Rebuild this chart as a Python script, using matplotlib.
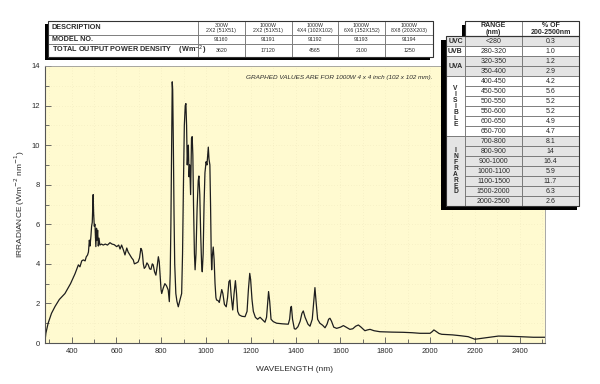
import numpy as np
import matplotlib
matplotlib.use("Agg")
from matplotlib import pyplot as plt
from matplotlib.patches import Rectangle

plt.rcParams['font.family'] = ['Liberation Sans', 'DejaVu Sans']

# spectrum (nm, W m^-2 nm^-1)
wavelength = [
    280, 285, 295, 310, 326, 345, 370, 395, 415, 430, 437, 445, 452, 460, 465, 471, 475, 479,
    482, 486, 489, 492, 494, 496, 498, 501, 504, 506, 508, 511, 513, 516, 519, 522, 526, 533,
    541, 550, 560, 571, 580, 590, 601, 610, 616, 623, 631, 638, 646, 652, 660, 668, 675, 680,
    690, 697, 703, 709, 713, 716, 720, 724, 730, 736, 742, 748, 754, 760, 764, 770, 776, 782,
    787, 791, 795, 799, 802, 808, 816, 823, 831, 836, 840, 843, 846, 849, 851, 854, 857, 860,
    865, 870, 876, 884, 891, 895, 899, 903, 907, 910, 913, 916, 919, 921, 924, 927, 931, 935,
    938, 941, 944, 948, 951, 955, 960, 965, 968, 972, 976, 980, 983, 987, 991, 995, 1000, 1004,
    1008, 1010, 1013, 1017, 1020, 1023, 1025, 1028, 1032, 1036, 1040, 1044, 1047, 1053, 1059,
    1065, 1070, 1075, 1082, 1090, 1096, 1102, 1107, 1112, 1119, 1125, 1131, 1136, 1141, 1148,
    1160, 1174, 1183, 1189, 1195, 1199, 1205, 1211, 1220, 1230, 1241, 1250, 1263, 1270, 1275,
    1279, 1284, 1290, 1300, 1315, 1340, 1367, 1373, 1378, 1381, 1386, 1394, 1400, 1410, 1420,
    1428, 1434, 1442, 1455, 1464, 1474, 1480, 1486, 1491, 1498, 1508, 1520, 1531, 1540, 1547,
    1553, 1560, 1570, 1583, 1600, 1613, 1625, 1642, 1655, 1668, 1680, 1692, 1709, 1720, 1732,
    1750, 1776, 1830, 1880, 1920, 1955, 2000, 2010, 2017, 2025, 2040, 2052, 2100, 2134, 2170,
    2200, 2253, 2305, 2350, 2401, 2461, 2513,
]
irradiance = [
    0.0, 0.5, 1.0, 1.5, 1.85, 2.2, 2.5, 3.0, 3.5, 3.95, 3.85, 4.15, 4.2, 4.15, 4.35, 4.45, 4.6, 5.2,
    4.9, 5.4, 5.9, 6.1, 6.8, 7.5, 6.6, 5.9, 6.0, 5.4, 4.87, 5.8, 5.2, 5.7, 4.9, 5.3, 4.95, 5.0,
    4.95, 5.0, 4.95, 5.07, 5.0, 4.97, 4.87, 4.95, 4.75, 4.95, 4.7, 4.45, 4.8, 4.6, 4.45, 4.3, 4.2, 4.0,
    4.05, 4.1, 4.3, 4.78, 4.7, 4.5, 4.0, 3.77, 3.85, 4.05, 3.95, 3.75, 3.72, 4.0, 3.95, 3.6, 3.43, 3.9,
    4.36, 4.1, 3.4, 2.7, 2.5, 2.75, 3.0, 2.9, 2.68, 2.09, 3.5, 6.0, 9.5, 13.2, 12.8, 10.0, 6.5, 4.0,
    2.5, 2.1, 1.83, 2.2, 2.5, 4.5, 8.0, 11.0, 12.0, 12.1, 11.0, 9.0, 9.8, 10.0, 8.4, 9.0, 7.5, 10.35,
    10.43, 9.5, 7.0, 4.5, 3.7, 4.5, 6.8, 8.2, 8.44, 7.5, 5.5, 4.0, 3.6, 4.5, 7.0, 8.6, 9.16, 9.0,
    9.6, 9.9, 9.3, 9.0, 7.0, 4.5, 3.7, 4.4, 4.85, 4.2, 3.0, 2.3, 2.17, 2.15, 2.05,
    2.4, 2.7, 2.5, 1.95, 1.83, 2.3, 3.1, 3.18, 2.4, 1.67, 2.5, 3.15, 2.5, 1.6, 1.42,
    1.35, 1.33, 1.6, 2.7, 3.52, 3.2, 2.2, 1.6, 1.3, 1.2, 1.3, 1.2, 1.05, 1.3, 2.0,
    2.6, 2.1, 1.2, 1.08, 1.0, 0.97, 0.95, 1.2, 1.8, 1.85, 1.2, 0.72, 0.7, 0.82, 1.1,
    1.5, 1.62, 1.3, 0.95, 0.85, 1.2, 2.0, 2.8, 2.1, 1.2, 1.0, 0.9, 0.77, 0.95, 1.2,
    1.25, 1.1, 0.8, 0.74, 0.8, 0.88, 0.8, 0.69, 0.72, 0.85, 0.91, 0.8, 0.62, 0.66, 0.69,
    0.62, 0.57, 0.55, 0.54, 0.52, 0.49, 0.49, 0.58, 0.66, 0.6, 0.48, 0.44, 0.41, 0.37, 0.32,
    0.19, 0.27, 0.35, 0.34, 0.32, 0.29, 0.29,
]

# top table
model_desc = ["300W\n2X2 (51X51)", "1000W\n2X2 (51X51)", "1000W\n4X4 (102X102)",
              "1000W\n6X6 (152X152)", "1000W\n8X8 (203X203)"]
model_no = ["91160", "91191", "91192", "91193", "91194"]
power_density = ["3620", "17120", "4565", "2100", "1250"]

# right table
band_names = ["UVC", "UVB", "UVA", "V\nI\nS\nI\nB\nL\nE", "I\nN\nF\nR\nA\nR\nE\nD"]
band_rows = [1, 1, 2, 6, 7]
ranges = ["<280", "280-320", "320-350", "350-400", "400-450", "450-500", "500-550",
          "550-600", "600-650", "650-700", "700-800", "800-900", "900-1000", "1000-1100",
          "1100-1500", "1500-2000", "2000-2500"]
percents = ["0.3", "1.0", "1.2", "2.9", "4.2", "5.6", "5.2", "5.2", "4.9", "4.7",
            "8.1", "14", "16.4", "5.9", "11.7", "6.3", "2.6"]

txt = '#2a2a2a'
fig = plt.figure(figsize=(6, 3.84), dpi=100)
ax = fig.add_axes([45 / 600, 41 / 384, 500 / 600, 277 / 384])
ax.set_facecolor('#fffad0')
ax.plot(wavelength, irradiance, color='#1e1e1e', lw=0.9)
ax.set_xlim(281, 2513)
ax.set_ylim(0, 14)
ax.set_xticks(range(400, 2401, 200))
ax.set_xticks(range(300, 2501, 100), minor=True)
ax.set_yticks(range(0, 15, 2))
ax.set_yticks(range(1, 14, 2), minor=True)
ax.tick_params(which='both', direction='in', colors='#555555', labelcolor=txt,
               labelsize=5.5, width=0.6)
ax.tick_params(which='major', length=4)
ax.tick_params(which='minor', length=3)
ax.grid(True, which='both', color='#e6dfb4', lw=0.4, ls=(0, (1, 4)))
for s in ['left', 'bottom']:
    ax.spines[s].set_color('#555555')
    ax.spines[s].set_linewidth(0.8)
for s in ['top', 'right']:
    ax.spines[s].set_color('#999999')
    ax.spines[s].set_linewidth(0.6)
ax.set_xlabel('WAVELENGTH (nm)', fontsize=6, color=txt, labelpad=8)
ax.set_ylabel('IRRADIANCE (Wm$^{-2}$ nm$^{-1}$)', fontsize=6, color=txt, labelpad=3)

# overlay in pixel coordinates for the two tables
ov = fig.add_axes([0, 0, 1, 1], zorder=5)
ov.set_xlim(0, 600)
ov.set_ylim(384, 0)
ov.axis('off')
ov.patch.set_alpha(0)

ov.text(432, 77, 'GRAPHED VALUES ARE FOR 1000W 4 x 4 inch (102 x 102 mm).',
        fontsize=4.6, style='italic', color=txt, ha='right', va='center')


def cell(x, y, w, h, fc='white'):
    ov.add_patch(Rectangle((x, y), w, h, fc=fc, ec='#6a6a6a', lw=0.5))


# --- top table ---
ov.add_patch(Rectangle((45, 24), 385, 35.5, fc='black', ec='none'))
cols = [47.7, 197.7, 245, 291.7, 338, 385, 433]
rows = [20.7, 35, 44.3, 56.7]
labels = ["DESCRIPTION", "MODEL NO.", "TOTAL OUTPUT POWER DENSITY    (Wm$^{-2}$)"]
for r in range(3):
    cell(cols[0], rows[r], cols[1] - cols[0], rows[r + 1] - rows[r])
    ov.text(cols[0] + 4, (rows[r] + rows[r + 1]) / 2, labels[r], fontsize=5.2,
            weight='bold', color=txt, va='center', ha='left')
    vals = [model_desc, model_no, power_density][r]
    for c in range(5):
        cell(cols[c + 1], rows[r], cols[c + 2] - cols[c + 1], rows[r + 1] - rows[r])
        ov.text((cols[c + 1] + cols[c + 2]) / 2, (rows[r] + rows[r + 1]) / 2 + 0.3,
                vals[c], fontsize=3.8, color=txt, ha='center', va='center',
                linespacing=1.0)
ov.add_patch(Rectangle((cols[0], rows[0]), cols[-1] - cols[0], rows[-1] - rows[0],
                       fc='none', ec='#333333', lw=0.8))

# --- right table ---
rh = 10.0
top = 36.3
ov.add_patch(Rectangle((441, 40), 136, 170, fc='black', ec='none'))
ov.add_patch(Rectangle((462, 25), 6, 12, fc='black', ec='none'))
cell(465, 21, 57, top - 21)
cell(522, 21, 57, top - 21)
ov.text(493.5, 28.7, "RANGE\n(nm)", fontsize=5, weight='bold', color=txt,
        ha='center', va='center', linespacing=0.95)
ov.text(550.5, 28.7, "% OF\n200-2500nm", fontsize=5, weight='bold', color=txt,
        ha='center', va='center', linespacing=0.95)
i = 0
for b, (name, n) in enumerate(zip(band_names, band_rows)):
    fc = '#e4e4e4' if b % 2 == 0 else 'white'
    y0 = top + i * rh
    cell(446, y0, 19, n * rh, fc)
    ov.text(455.5, y0 + n * rh / 2, name, fontsize=5 if n < 3 else 4.8, weight='bold',
            color=txt, ha='center', va='center', linespacing=0.78)
    for k in range(n):
        y = top + (i + k) * rh
        cell(465, y, 57, rh, fc)
        cell(522, y, 57, rh, fc)
        ov.text(493.5, y + rh / 2, ranges[i + k], fontsize=5, color=txt,
                ha='center', va='center')
        ov.text(550.5, y + rh / 2, percents[i + k], fontsize=5, color=txt,
                ha='center', va='center')
    i += n
ov.add_patch(Rectangle((446, top), 133, sum(band_rows) * rh, fc='none',
                       ec='#333333', lw=0.8))
ov.add_patch(Rectangle((465, 21), 114, top - 21, fc='none', ec='#333333', lw=0.8))

fig.savefig('out.png', dpi=100)
